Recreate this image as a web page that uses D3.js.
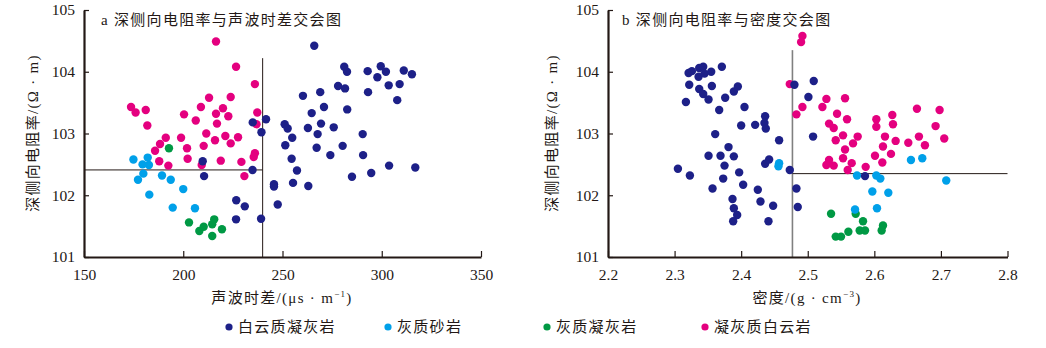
<!DOCTYPE html>
<html>
<head>
<meta charset="utf-8">
<script src="https://cdn.jsdelivr.net/npm/d3@7/dist/d3.min.js"></script>
<style>
  html, body { margin: 0; padding: 0; background: #fff; }
  svg { display: block; font-family: "Liberation Serif", "Noto Sans CJK SC", serif; }
  .cn { font-family: "Liberation Serif", "Noto Sans CJK SC", serif; letter-spacing: 1.3px; }
</style>
</head>
<body>
<svg id="chart" width="1046" height="348"></svg>
<script>
// Lithology classes and their colours
const lithologies = ["白云质凝灰岩", "灰质砂岩", "灰质凝灰岩", "凝灰质白云岩"];
const lithColors = ["#1d2088", "#00a0e9", "#009944", "#e4007f"];

// Panel a: acoustic interval transit time (μs/m) vs deep lateral resistivity
const acDolomiticTuff = [
  [209.8,102.55],[210.5,102.31],[235.0,103.18],[239.4,103.02],[234.9,102.41],
  [266.0,104.42],[281.1,104.08],[282.5,104.00],[292.9,104.01],[299.5,104.09],
  [302.1,104.00],[311.1,104.02],[315.2,103.96],[297.8,103.91],[303.5,103.78],
  [309.0,103.80],[278.0,103.77],[281.5,103.73],[269.0,103.67],[293.1,103.67],
  [260.3,103.61],[307.8,103.54],[270.9,103.43],[282.6,103.39],[264.7,103.33],
  [241.7,103.23],[251.1,103.15],[252.6,103.08],[262.8,103.09],[269.4,103.16],
  [275.8,103.10],[267.7,102.99],[290.4,102.99],[254.9,102.93],[251.4,102.81],
  [267.2,102.77],[280.3,102.80],[254.6,102.59],[274.1,102.65],[290.6,102.65],
  [257.3,102.40],[303.7,102.48],[316.9,102.45],[285.0,102.30],[294.7,102.36],
  [255.3,102.20],[245.7,102.18],[245.7,102.14],[263.0,102.15],[247.6,101.85],
  [231.0,101.82],[239.2,101.62],[226.7,101.92],[226.6,101.61]
];
const acCalcSandstone = [
  [174.9,102.58],[182.1,102.61],[179.5,102.50],[182.7,102.49],[179.9,102.35],
  [189.3,102.32],[193.7,102.25],[177.2,102.25],[182.9,102.01],[200.0,102.10],
  [194.7,101.80],[205.9,101.79]
];
const acCalcTuff = [
  [192.8,102.76],[202.9,101.56],[208.1,101.42],[210.3,101.49],[214.6,101.53],
  [215.6,101.61],[214.6,101.34],[219.5,101.45]
];
const acTuffDolomite = [
  [173.7,103.43],[176.0,103.34],[181.1,103.38],[181.9,103.13],[216.5,104.49],
  [226.6,104.08],[236.1,103.80],[213.0,103.58],[223.9,103.59],[208.9,103.43],
  [220.0,103.41],[216.5,103.32],[200.4,103.31],[222.7,103.28],[237.3,103.34],
  [206.3,103.21],[217.0,103.16],[236.9,103.15],[211.6,103.00],[198.9,102.93],
  [191.2,102.93],[221.2,102.96],[227.6,102.94],[216.0,102.89],[188.3,102.83],
  [210.3,102.80],[223.9,102.84],[201.9,102.76],[185.8,102.72],[236.1,102.68],
  [235.5,102.62],[202.2,102.59],[187.9,102.55],[218.9,102.56],[229.3,102.54],
  [192.5,102.48],[209.3,102.49],[230.8,102.31]
];

// Panel b: bulk density (g/cm³) vs deep lateral resistivity
const denDolomiticTuff = [
  [2.317,103.51],[2.322,103.79],[2.321,103.98],[2.326,104.01],[2.337,104.06],
  [2.343,104.08],[2.336,103.92],[2.345,103.97],[2.355,104.00],[2.371,104.08],
  [2.356,103.77],[2.337,103.72],[2.343,103.64],[2.351,103.55],[2.376,103.58],
  [2.389,103.68],[2.395,103.76],[2.367,103.38],[2.405,103.43],[2.400,103.13],
  [2.421,103.14],[2.436,103.28],[2.435,103.17],[2.437,103.08],[2.361,102.99],
  [2.381,102.78],[2.351,102.64],[2.369,102.64],[2.389,102.63],[2.305,102.43],
  [2.323,102.32],[2.375,102.48],[2.397,102.37],[2.373,102.27],[2.357,102.11],
  [2.403,102.17],[2.425,102.09],[2.387,101.94],[2.389,101.79],[2.394,101.68],
  [2.388,101.58],[2.429,101.90],[2.448,101.83],[2.441,101.58],[2.436,102.51],
  [2.442,102.58],[2.457,102.89],[2.480,103.79],[2.509,103.85],[2.501,103.59],
  [2.508,102.95],[2.473,102.41],[2.483,102.11],[2.485,101.81],[2.586,102.31]
];
const denCalcSandstone = [
  [2.456,102.47],[2.457,102.52],[2.655,102.57],[2.672,102.60],[2.574,102.32],
  [2.603,102.32],[2.609,102.27],[2.708,102.24],[2.597,102.06],[2.621,102.04],
  [2.571,101.77],[2.604,101.79]
];
const denCalcTuff = [
  [2.535,101.70],[2.572,101.70],[2.583,101.58],[2.578,101.43],[2.586,101.43],
  [2.561,101.41],[2.542,101.33],[2.550,101.33],[2.613,101.51],[2.611,101.43]
];
const denTuffDolomite = [
  [2.492,104.58],[2.490,104.48],[2.473,103.80],[2.528,103.56],[2.556,103.57],
  [2.492,103.43],[2.522,103.43],[2.483,103.31],[2.544,103.32],[2.559,103.23],
  [2.603,103.23],[2.627,103.30],[2.664,103.40],[2.698,103.38],[2.532,103.16],
  [2.539,103.09],[2.603,103.11],[2.628,103.15],[2.692,103.12],[2.553,102.97],
  [2.575,102.95],[2.542,102.89],[2.616,102.95],[2.667,102.95],[2.705,102.92],
  [2.632,102.88],[2.651,102.85],[2.568,102.84],[2.613,102.79],[2.676,102.81],
  [2.556,102.74],[2.625,102.67],[2.601,102.64],[2.553,102.60],[2.532,102.57],
  [2.528,102.49],[2.539,102.48],[2.566,102.52],[2.612,102.53],[2.587,102.46],
  [2.560,102.41]
];

// Axis ticks
const resTicks = [101, 102, 103, 104, 105];
const acTicks = [150, 200, 250, 300, 350];
const denTicks = [2.2, 2.3, 2.4, 2.5, 2.6, 2.7, 2.8];

// Cut-off lines: [x cut, y cut, top of vertical line]
const acCutoff = [240, 102.41, 104.22];
const denCutoff = [2.477, 102.35, 104.35];

const svg = d3.select("#chart");
const ink = "#231815";

function panel(cfg) {
  const x = d3.scaleLinear().domain(cfg.xDomain).range(cfg.xRange);
  const y = d3.scaleLinear().domain([101, 105]).range([257, 10]);
  const g = svg.append("g");

  // cut-off lines
  const [cx, cy, ctop] = cfg.cutoff;
  g.append("line")
    .attr("x1", x(cx)).attr("x2", x(cx))
    .attr("y1", y(ctop)).attr("y2", y(101))
    .attr("stroke", cfg.vColor).attr("stroke-width", cfg.vWidth);
  const hx = cfg.hSide === "left" ? [x.domain()[0], cx] : [cx, x.domain()[1]];
  g.append("line")
    .attr("x1", x(hx[0])).attr("x2", x(hx[1]))
    .attr("y1", y(cy)).attr("y2", y(cy))
    .attr("stroke", ink).attr("stroke-width", 1);

  // points, drawn so that 白云质凝灰岩 sits on top
  const order = [3, 2, 1, 0];
  order.forEach(i => {
    g.append("g").selectAll("circle")
      .data(cfg.series[i]).join("circle")
      .attr("cx", d => x(d[0])).attr("cy", d => y(d[1]))
      .attr("r", 4.2).attr("fill", lithColors[i]);
  });

  // axes with inward ticks
  const yAxis = d3.axisLeft(y).tickValues(resTicks).tickFormat(d3.format("d"))
    .tickSizeInner(-5).tickSizeOuter(0).tickPadding(9);
  const xAxis = d3.axisBottom(x).tickValues(cfg.xTicks).tickFormat(cfg.xFormat)
    .tickSizeInner(-6).tickSizeOuter(0).tickPadding(12);

  const ya = g.append("g").attr("transform", `translate(${x.range()[0]},0)`).call(yAxis);
  const xa = g.append("g").attr("transform", `translate(0,${y(101)})`).call(xAxis);
  [ya, xa].forEach(a => {
    a.select(".domain").attr("stroke", ink).attr("stroke-width", 2.2);
    a.selectAll(".tick line").attr("stroke", ink).attr("stroke-width", 1.2);
    a.selectAll(".tick text").attr("fill", ink)
      .style("font-family", "'Liberation Serif', serif").style("font-size", "15.5px");
  });

  // panel title
  g.append("text").attr("class", "cn")
    .attr("x", cfg.titleX).attr("y", 25)
    .attr("fill", ink).style("font-size", "15px")
    .text(cfg.title);

  // y-axis title
  g.append("text").attr("class", "cn")
    .attr("transform", `translate(${cfg.yTitleX},133) rotate(-90)`)
    .attr("text-anchor", "middle").attr("dy", "0.35em")
    .attr("fill", ink).style("font-size", "15px")
    .text("深侧向电阻率/(Ω · m)");

  // x-axis title with superscript unit exponent
  const xt = g.append("text").attr("class", "cn")
    .attr("x", cfg.xTitleX).attr("y", 303)
    .attr("text-anchor", "middle")
    .attr("fill", ink).style("font-size", "15px");
  xt.append("tspan").text(cfg.xTitle[0]);
  xt.append("tspan").attr("dy", -6).style("font-size", "9px").text(cfg.xTitle[1]);
  xt.append("tspan").attr("dy", 6).text(")");
}

panel({
  xDomain: [150, 350], xRange: [84, 481], xTicks: acTicks, xFormat: d3.format("d"),
  series: [acDolomiticTuff, acCalcSandstone, acCalcTuff, acTuffDolomite],
  cutoff: acCutoff, hSide: "left", vColor: ink, vWidth: 1,
  title: "a 深侧向电阻率与声波时差交会图", titleX: 101,
  yTitleX: 33, xTitleX: 282, xTitle: ["声波时差/(μs · m", "−1"]
});

panel({
  xDomain: [2.2, 2.8], xRange: [608, 1007.5], xTicks: denTicks, xFormat: d3.format(".1f"),
  series: [denDolomiticTuff, denCalcSandstone, denCalcTuff, denTuffDolomite],
  cutoff: denCutoff, hSide: "right", vColor: "#808080", vWidth: 1.6,
  title: "b 深侧向电阻率与密度交会图", titleX: 622,
  yTitleX: 552, xTitleX: 807, xTitle: ["密度/(g · cm", "−3"]
});

// legend
const legendX = [229, 388, 547, 705];
const legend = svg.append("g").selectAll("g")
  .data(lithologies).join("g")
  .attr("transform", (d, i) => `translate(${legendX[i]},327)`);
legend.append("circle").attr("r", 3.6).attr("fill", (d, i) => lithColors[i]);
legend.append("text").attr("class", "cn")
  .attr("x", 9).attr("dy", "0.36em")
  .attr("fill", ink).style("font-size", "15px")
  .text(d => d);
</script>
</body>
</html>
